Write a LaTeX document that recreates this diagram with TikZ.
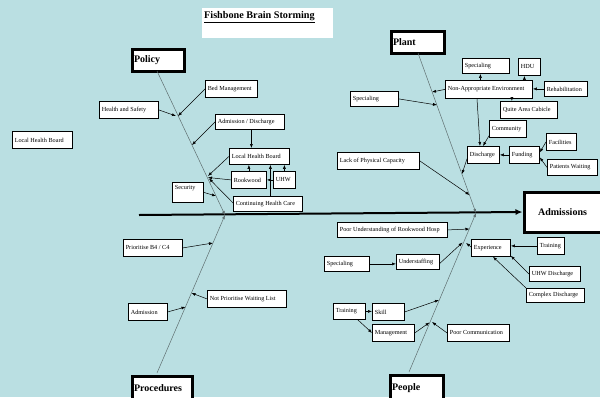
\documentclass[tikz,border=0pt]{standalone}
\usepackage{fontspec}
\setmainfont{Liberation Serif}
\usetikzlibrary{arrows.meta,calc}
\definecolor{bgc}{RGB}{186,223,226}
\definecolor{bone}{RGB}{95,110,112}
\newcommand\fsz{\fontsize{6.2}{7}\selectfont}
\newcommand\bx[6]{\node[box, minimum width=#4pt, minimum height=#5pt] (#1) at (#2,#3) {\makebox[\dimexpr#4pt-4.8pt\relax][l]{#6}};}
\newcommand\cx[6]{\node[cat, minimum width=#4pt, minimum height=#5pt] (#1) at (#2,#3) {\makebox[\dimexpr#4pt-4pt\relax][l]{#6}};}
\tikzset{
  box/.style={draw, fill=white, line width=0.8pt, inner xsep=2pt, inner ysep=0pt, font=\fsz, anchor=north west},
  cat/.style={draw, fill=white, line width=3pt, inner xsep=2pt, inner ysep=0pt, font=\fontsize{10}{12}\selectfont\bfseries, anchor=north west},
  arr/.style={line width=0.5pt, -{Latex[length=4pt,width=3pt]}},
  bonel/.style={draw=bone, line width=0.5pt, -{Latex[length=4pt,width=3pt]}},
}
\begin{document}
\begin{tikzpicture}[x=1pt,y=-1pt]
\fill[bgc] (0,0) rectangle (600,397);
\useasboundingbox (0,0) rectangle (600,397);
% title
\fill[white] (202,8) rectangle (333,38);
\node[anchor=north west, inner sep=0pt, font=\fontsize{10.2}{12}\selectfont\bfseries] (title) at (204,11) {\underline{Fishbone Brain Storming}};
% category boxes
\cx{policy}{130.5}{47.5}{52}{22}{Policy}
\cx{plant}{389.5}{29.5}{53}{22}{Plant}
\cx{proc}{130.5}{374.5}{60}{25}{Procedures}
\cx{people}{388.5}{373.5}{53}{26}{People}
\node[cat, minimum width=77pt, minimum height=40pt] (adms) at (522.5,190.5) {Admissions};
% spine
\coordinate (spst) at (139,215);
\draw[line width=2pt, -{Latex[length=7pt,width=6pt]}] (spst) -- (adms.west);
% bone coordinates
\coordinate (hubL) at (225,215);
\coordinate (hubR) at (476,213);
\coordinate (pol0) at (157,71);
\coordinate (pro0) at (157,373);
\coordinate (pla0) at (418,53);
\coordinate (peo0) at (409,372);
\draw[bonel] (pol0) -- (hubL);
\draw[bonel] (pro0) -- (hubL);
\draw[bonel] (pla0) -- (hubR);
\draw[bonel] (peo0) -- (hubR);
% policy nodes
\bx{bm}{205}{80}{52}{17}{Bed Management}
\bx{hs}{99}{101}{59}{17}{Health and Safety}
\bx{lhbL}{12}{131}{60}{17}{Local Health Board}
\bx{ad}{215}{114}{69}{15}{Admission / Discharge}
\bx{lhb}{229}{148}{60}{16}{Local Health Board}
\bx{rw}{231}{171}{35}{17}{Rookwood}
\bx{uhw}{273}{171}{22}{17}{UHW}
\node[box, minimum width=31pt, minimum height=20pt, align=left, text depth=10pt, text height=5pt] (sec) at (172,182) {\makebox[26pt][l]{Security}};
\bx{chc}{233}{196}{69}{15}{Continuing Health Care}
% procedures nodes
\bx{pb}{123}{239}{59}{17}{Prioritise B4 / C4}
\bx{npw}{207}{290}{79}{17}{Not Prioritise Waiting List}
\bx{adm}{128}{303}{39}{17}{Admission}
% plant nodes
\bx{spT}{462}{58}{47}{15}{Specialing}
\bx{hdu}{518}{58}{22}{17}{HDU}
\bx{nae}{445}{80}{87}{18}{Non-Appropriate Environment}
\bx{reh}{544}{81}{43}{15}{Rehabilitation}
\bx{qac}{500}{101}{57}{17}{Quite Area Cabicle}
\bx{spL}{350}{91}{48}{15}{Specialing}
\bx{com}{489}{120}{37}{17}{Community}
\bx{dis}{467}{146}{32}{17}{Discharge}
\bx{fun}{509}{146}{30}{17}{Funding}
\bx{fac}{546}{133}{30}{17}{Facilities}
\bx{pw}{547}{159}{50}{16}{Patients Waiting}
\bx{lpc}{337}{152}{82}{17}{Lack of Physical Capacity}
% people nodes
\bx{pu}{337}{222}{110}{15}{Poor Understanding of Rookwood Hosp}
\bx{exp}{471}{239}{39}{17}{Experience}
\bx{trR}{537}{237}{27}{17}{Training}
\bx{uhwd}{529}{266}{51}{15}{UHW Discharge}
\bx{cd}{526}{288}{58}{14}{Complex Discharge}
\bx{spB}{324}{256}{45}{15}{Specialing}
\bx{us}{396}{254}{43}{15}{Understaffing}
\bx{trB}{333}{303}{32}{16}{Training}
\bx{sk}{372}{303}{32}{17}{Skill}
\bx{mg}{372}{324}{42}{17}{Management}
\bx{pc}{447}{324}{62}{17}{Poor Communication}
% target points on bones
\coordinate (t1) at (178,116);
\coordinate (t2) at (176,116);
\coordinate (t3) at (192,145);
\coordinate (t4) at (208,176);
\coordinate (t5) at (208,177.5);
\coordinate (t6) at (209,178.5);
\coordinate (t7) at (216,196);
\coordinate (u1) at (213,243);
\coordinate (u2) at (191.5,293);
\coordinate (u3) at (185.5,307);
\coordinate (v1) at (432,92);
\coordinate (v2) at (437,105);
\coordinate (v3) at (462,174);
\coordinate (v4) at (469.5,195);
\coordinate (w1) at (469.5,229);
\coordinate (w2) at (466,243);
\coordinate (w3) at (462.5,242.5);
\coordinate (w4) at (439,300);
\coordinate (w5) at (429.5,322.5);
\coordinate (w6) at (432,322);
% policy connectors
\draw[arr] (bm.west) -- (t1);
\draw[arr] (hs.east) -- (t2);
\draw[arr] (ad.west) -- (t3);
\draw[arr] ([xshift=1.5pt]ad.south) -- ([xshift=1.5pt]ad.south |- lhb.north);
\draw[arr] (lhb.west) -- (t4);
\draw[arr] (rw.west) -- (t5);
\draw[arr] ([yshift=1pt]chc.west) -- (t6);
\draw[arr] (sec.east) -- (t7);
\draw[arr] (rw.north) -- (rw.north |- lhb.south);
\draw[arr] (uhw.north) -- (uhw.north |- lhb.south);
\draw[arr] ([xshift=2.5pt]chc.north) -- ([xshift=2.5pt]chc.north |- lhb.south);
\draw[arr] (uhw.west) -- (rw.east);
% procedures connectors
\draw[arr] (pb.east) -- (u1);
\draw[arr] (npw.west) -- (u2);
\draw[arr] (adm.east) -- (u3);
% plant connectors
\draw[arr] (nae.west) -- (v1);
\draw[arr] (spL.east) -- (v2);
\draw[arr] ([xshift=-5.5pt]spT.south |- nae.north) -- ([xshift=-5.5pt]spT.south);
\draw[arr] ([xshift=-5pt]hdu.south |- nae.north) -- ([xshift=-5pt]hdu.south);
\draw[arr] (reh.west) -- (reh.west -| nae.east);
\draw[arr] ([xshift=-17pt]qac.north |- nae.south) -- ([xshift=-17pt]qac.north);
\draw[arr] ([xshift=32pt]nae.south west) -- ([xshift=13pt]dis.north west);
\draw[arr] ([yshift=2pt]com.south west) -- ([xshift=16pt]dis.north west);
\draw[arr] (fun.west) -- (dis.east);
\draw[arr] (fac.west) -- ([yshift=2.5pt]fun.east);
\draw[arr] (pw.west) -- ([yshift=-2.5pt]fun.east);
\draw[arr] ([yshift=5pt]dis.south west) -- (v3);
\draw[arr] (lpc.east) -- (v4);
% people connectors
\draw[arr] (pu.east) -- (w1);
\draw[arr] ([yshift=1pt]exp.west) -- (w2);
\draw[arr] ([yshift=-1.5pt]us.east) -- (w3);
\draw[arr] (trR.west) -- (trR.west -| exp.east);
\draw[arr] (uhwd.west) -- ([yshift=1pt]exp.south east);
\draw[arr] (cd.north west) -- ([xshift=22pt]exp.south west);
\draw[arr] (spB.east) -- (spB.east -| us.west);
\draw[arr] (sk.east) -- (w4);
\draw[arr] (trB.east) -- (trB.east -| sk.west);
\draw[arr] ([xshift=-8pt]trB.south east) -- (mg.west);
\draw[arr] (mg.east) -- (w5);
\draw[arr] (pc.west) -- (w6);
\end{tikzpicture}
\end{document}
